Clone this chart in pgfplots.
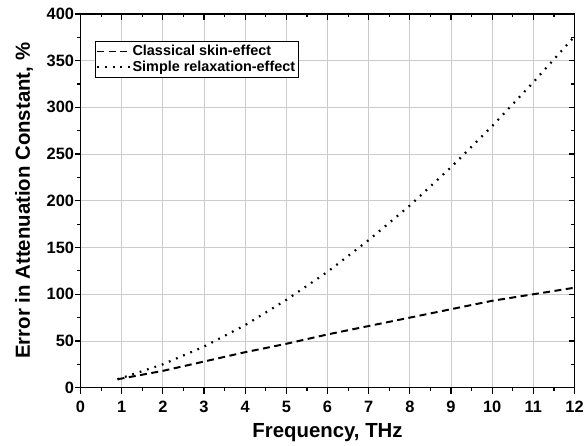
\documentclass[border=0pt]{standalone}
\usepackage{pgfplots}
\pgfplotsset{compat=1.18}
\usepackage{fontspec}
\setmainfont{Liberation Sans}
\pgfplotsset{
  common/.style={
    scale only axis,
    width=497pt, height=376pt,
    xmin=0, xmax=12, ymin=0, ymax=400,
    xtick={0,1,...,12}, ytick={0,50,...,400},
    minor x tick num=1, minor y tick num=1,
    major tick length=6pt, minor tick length=3.5pt,
    every tick/.style={black, line width=1.2pt},
    axis line style={line width=1.5pt},
  }
}
\begin{document}
\begin{tikzpicture}
\begin{axis}[
  common,
  name=main,
  tick align=outside,
  xtick pos=bottom, ytick pos=left,
  grid=major,
  major grid style={gray!40, line width=0.9pt},
  minor grid style={draw=none},
  xticklabels={\textbf{0},\textbf{1},\textbf{2},\textbf{3},\textbf{4},\textbf{5},\textbf{6},\textbf{7},\textbf{8},\textbf{9},\textbf{10},\textbf{11},\textbf{12}},
  yticklabels={\textbf{0},\textbf{50},\textbf{100},\textbf{150},\textbf{200},\textbf{250},\textbf{300},\textbf{350},\textbf{400}},
  tick label style={font=\fontsize{16.5}{17}\selectfont\bfseries},
  xticklabel style={yshift=-4pt},
  yticklabel style={xshift=3pt},
  xlabel={Frequency, THz},
  ylabel={Error in Attenuation Constant, \%},
  label style={font=\fontsize{20.5}{21}\selectfont\bfseries},
  xlabel style={at={(axis description cs:0.5,-0.133)}, anchor=base},
  ylabel style={at={(axis description cs:-0.1026,0.5)}, anchor=base},
  legend style={at={(0.030,0.928)}, anchor=north west, draw=black, line width=0.7pt,
    font=\fontsize{14.5}{15.5}\selectfont\bfseries, inner xsep=1pt, inner ysep=2pt, row sep=0pt,
    cells={anchor=west}},
  legend cell align=left,
  legend image code/.code={\draw[#1, line width=1.1pt] (0pt,0pt) -- (33pt,0pt);},
]
\addplot[black, line width=2pt, dash pattern=on 7pt off 4.5pt] coordinates {
(0.9,9) (2,18) (3,28) (4,38) (5,47) (6,57) (7,66) (8,75) (9,84) (10,93) (11,100) (12,107)};
\addlegendentry{Classical skin-effect}
\addplot[black, line width=2.2pt, dash pattern=on 1.8pt off 6pt] coordinates {
(0.9,9) (2,25) (3,44) (4,67) (5,94) (6,124) (7,158) (8,195) (9,236) (10,280) (11,327) (12,376)};
\addlegendentry{Simple relaxation-effect}
\end{axis}
\begin{axis}[
  common,
  tick align=inside,
  xtick pos=top, ytick pos=right,
  xticklabels={}, yticklabels={},
]
\end{axis}
\path (main.south west) ++(-81pt,-58pt) rectangle ++(587pt,448pt);
\end{tikzpicture}
\end{document}
